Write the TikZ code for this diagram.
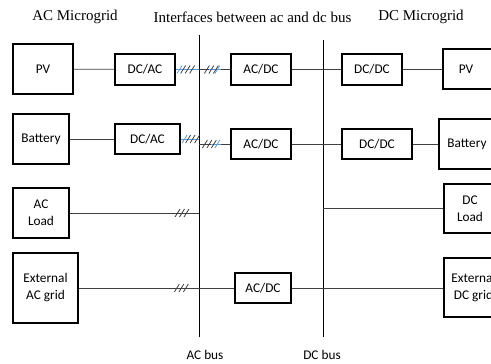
\documentclass[tikz,border=0pt]{standalone}
\usepackage{fontspec}
\usetikzlibrary{calc}
\setmainfont{Liberation Serif}
\newfontfamily\boxfont{Carlito}
\definecolor{wiregray}{HTML}{404040}
\definecolor{hashblue}{HTML}{5B9BD5}
\begin{document}
\begin{tikzpicture}[x=1pt,y=-1pt,
  box/.style={draw=black, line width=1.2pt, inner sep=0pt, align=center,
    font=\boxfont\fontsize{13.3}{17}\selectfont},
  wire/.style={draw=wiregray, line width=0.8pt},
  bluewire/.style={draw=hashblue, line width=0.8pt},
  busline/.style={draw=black, line width=0.9pt},
  title/.style={font=\fontsize{15}{18}\selectfont, inner sep=0pt},
  buslabel/.style={font=\boxfont\fontsize{13.3}{16}\selectfont, inner sep=0pt},
  hash/.pic={\foreach \i in {0,1,2} \draw[wiregray, line width=0.8pt] (-7+4.5*\i,4) -- (-2+4.5*\i,-4);},
  bluehash/.pic={\draw[hashblue, line width=0.8pt] (-2.5,4) -- (2.5,-4);}
]
\useasboundingbox (0,0) rectangle (491,364);
\clip (0,0) rectangle (491,364);

% titles
\node[title] (tAC) at (75,17) {AC Microgrid};
\node[title] (tIF) at (252.5,17) {Interfaces between ac and dc bus};
\node[title] (tDC) at (421,17) {DC Microgrid};

% buses
\coordinate (acTop) at (199,35);
\coordinate (acBot) at (199,337);
\coordinate (dcTop) at (323,40);
\coordinate (dcBot) at (323,337);
\draw[busline] (acTop) -- (acBot);
\draw[busline] (dcTop) -- (dcBot);
\node[buslabel] (acLab) at (205,355) {AC bus};
\node[buslabel] (dcLab) at (322,355) {DC bus};

% row 1
\node[box, minimum width=60, minimum height=50] (pvL) at (43,69) {PV};
\node[box, minimum width=60, minimum height=31] (dcac1) at (145,69.5) {DC/AC};
\node[box, minimum width=60, minimum height=31] (acdc1) at (261,69.5) {AC/DC};
\node[box, minimum width=60, minimum height=31] (dcdc1) at (372,69.5) {DC/DC};
\node[box, minimum width=54, minimum height=40] (pvR) at (470,69) {PV\hspace*{8pt}};

% row 2
\node[box, minimum width=56, minimum height=50] (batL) at (41,139) {Battery};
\node[box, minimum width=65, minimum height=30] (dcac2) at (147.5,139) {DC/AC};
\node[box, minimum width=60, minimum height=30] (acdc2) at (261,144) {AC/DC};
\node[box, minimum width=70, minimum height=30] (dcdc2) at (377,144) {DC/DC};
\node[box, minimum width=56, minimum height=50] (batR) at (467,144) {Battery};

% row 3
\node[box, minimum width=56, minimum height=50] (loadL) at (41,213) {AC\\Load};
\node[box, minimum width=52, minimum height=49] (loadR) at (470,208.5) {DC\\Load};

% row 4
\node[box, minimum width=65, minimum height=70] (extAC) at (45.5,288) {External\\AC grid};
\node[box, minimum width=56, minimum height=30] (acdc3) at (263,288) {AC/DC};
\node[box, minimum width=59, minimum height=59] (extDC) at (473.5,287.5) {External\\DC grid};

% connectors row 1
\draw[wire] (pvL) -- (dcac1);
\draw[wire] (dcac1) -- (acdc1);
\draw[bluewire] (dcac1.east) -- (dcac1.east -| acTop);
\draw[bluewire] ($(acdc1.west)+(-21,0)$) -- ($(acdc1.west)+(-9,0)$);
\draw[wire] (acdc1) -- (dcdc1);
\draw[wire] (dcdc1) -- (pvR.west |- dcdc1);
\pic at ($(dcac1.east)+(12,0)$) {hash};
\pic at ($(dcac1.east)+(4,0)$) {bluehash};
\pic at ($(acdc1.west)+(-19,0)$) {hash};
\pic at ($(acdc1.west)+(-13,0)$) {bluehash};

% connectors row 2
\draw[wire] (batL) -- (dcac2);
\coordinate (acB2) at (dcac2.east -| acTop);
\coordinate (acB2r) at (acdc2.west -| acTop);
\draw[wire] (dcac2.east) -- (acB2);
\draw[bluewire] (dcac2.east) -- (acB2);
\draw[wire] (acB2r) -- (acdc2.west);
\draw[bluewire] ($(acdc2.west)+(-19,0)$) -- ($(acdc2.west)+(-9,0)$);
\pic at ($(dcac2.east)+(12,0)$) {hash};
\pic at ($(dcac2.east)+(4,0)$) {bluehash};
\pic at ($(acdc2.west)+(-21,0)$) {hash};
\pic at ($(acdc2.west)+(-13,0)$) {bluehash};
\draw[wire] (acdc2) -- (dcdc2);
\draw[wire] (dcdc2) -- (batR);

% connectors row 3
\coordinate (acB3) at (loadL.east -| acTop);
\draw[wire] (loadL.east) -- (acB3);
\pic at ($(acB3)+(-17,0)$) {hash};
\coordinate (dcB3) at (loadR.west -| dcTop);
\draw[wire] (dcB3) -- (loadR.west);

% connectors row 4
\draw[wire] (extAC) -- (acdc3);
\pic at ($(acdc3.west)+(-53,0)$) {hash};
\draw[wire] (acdc3) -- (extDC.west |- acdc3);
\end{tikzpicture}
\end{document}
